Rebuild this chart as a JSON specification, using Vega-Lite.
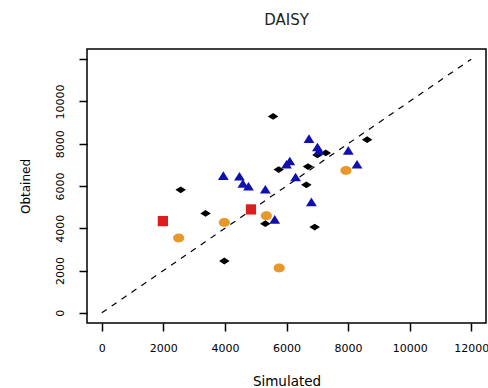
{
  "$schema": "https://vega.github.io/schema/vega-lite/v6.json",
  "width": 399,
  "height": 274,
  "autosize": "none",
  "padding": {"left": 87, "top": 49, "right": 2, "bottom": 65},
  "background": "white",
  "title": {"text": "DAISY", "font": "DejaVu Sans", "fontSize": 15, "fontWeight": "normal", "letterSpacing": 3.5, "offset": 21, "anchor": "middle", "color": "#222222"},
  "config": {
    "view": {"stroke": "black", "strokeWidth": 1.5},
    "axis": {
      "domain": false,
      "grid": false,
      "ticks": true,
      "tickSize": 8,
      "tickColor": "black",
      "tickWidth": 1.5,
      "labelColor": "black",
      "titleColor": "black",
      "labelFont": "DejaVu Sans",
      "titleFont": "DejaVu Sans",
      "titleFontWeight": "normal"
    }
  },
  "layer": [
    {
      "data": {"values": [{"x": 0, "y": 0}, {"x": 12000, "y": 12000}]},
      "mark": {"type": "line", "strokeDash": [6, 6], "color": "black", "strokeWidth": 1.2},
      "encoding": {
        "x": {"field": "x", "type": "quantitative", "scale": {"domain": [-480, 12480], "nice": false, "zero": false},
              "axis": {"values": [0, 2000, 4000, 6000, 8000, 10000, 12000], "format": "d", "labelFontSize": 11, "labelPadding": 11, "title": "Simulated", "titleFontSize": 13.5, "titlePadding": 21}},
        "y": {"field": "y", "type": "quantitative", "scale": {"domain": [-480, 12480], "nice": false, "zero": false},
              "axis": {"values": [0, 2000, 4000, 6000, 8000, 10000, 12000], "format": "d", "labelExpr": "datum.value == 12000 ? '' : datum.label", "labelAngle": -90, "labelAlign": "center", "labelBaseline": "bottom", "labelFontSize": 11, "labelPadding": 14, "title": "Obtained", "titleFontSize": 12, "titlePadding": 22}}
      }
    },
    {
      "data": {"values": [
        {"x": 5565, "y": 9292, "group": "A"},
        {"x": 8619, "y": 8193, "group": "A"},
        {"x": 7277, "y": 7566, "group": "A"},
        {"x": 7005, "y": 7472, "group": "A"},
        {"x": 6698, "y": 6920, "group": "A"},
        {"x": 5748, "y": 6778, "group": "A"},
        {"x": 6645, "y": 6057, "group": "A"},
        {"x": 2563, "y": 5821, "group": "A"},
        {"x": 3371, "y": 4703, "group": "A"},
        {"x": 5312, "y": 4217, "group": "A"},
        {"x": 6916, "y": 4057, "group": "A"},
        {"x": 3981, "y": 2453, "group": "A"},
        {"x": 6730, "y": 8226, "group": "B"},
        {"x": 7005, "y": 7830, "group": "B"},
        {"x": 7058, "y": 7675, "group": "B"},
        {"x": 8007, "y": 7675, "group": "B"},
        {"x": 8291, "y": 7014, "group": "B"},
        {"x": 6108, "y": 7170, "group": "B"},
        {"x": 6000, "y": 7014, "group": "B"},
        {"x": 6295, "y": 6415, "group": "B"},
        {"x": 3948, "y": 6481, "group": "B"},
        {"x": 4472, "y": 6448, "group": "B"},
        {"x": 4583, "y": 6104, "group": "B"},
        {"x": 4766, "y": 5976, "group": "B"},
        {"x": 5312, "y": 5835, "group": "B"},
        {"x": 6809, "y": 5236, "group": "B"},
        {"x": 5617, "y": 4406, "group": "B"},
        {"x": 7931, "y": 6731, "group": "C"},
        {"x": 5345, "y": 4594, "group": "C"},
        {"x": 3981, "y": 4278, "group": "C"},
        {"x": 2497, "y": 3538, "group": "C"},
        {"x": 5761, "y": 2123, "group": "C"},
        {"x": 1984, "y": 4340, "group": "D"},
        {"x": 4845, "y": 4892, "group": "D"}
      ]},
      "mark": {"type": "point", "filled": true, "opacity": 1, "strokeWidth": 0},
      "encoding": {
        "x": {"field": "x", "type": "quantitative"},
        "y": {"field": "y", "type": "quantitative"},
        "shape": {"field": "group", "type": "nominal", "legend": null,
                  "scale": {"domain": ["A", "B", "C", "D"], "range": ["M-1,0L0,-0.65L1,0L0,0.65Z", "M-1,0.75L1,0.75L0,-0.85Z", "M-1,0A1,0.8,0,1,0,1,0A1,0.8,0,1,0,-1,0Z", "M-0.9,-0.9L0.9,-0.9L0.9,0.9L-0.9,0.9Z"]}},
        "color": {"field": "group", "type": "nominal", "legend": null,
                  "scale": {"domain": ["A", "B", "C", "D"], "range": ["#000000", "#1010B0", "#E8982A", "#DD1E1E"]}},
        "size": {"field": "group", "type": "nominal", "legend": null,
                 "scale": {"domain": ["A", "B", "C", "D"], "range": [110, 130, 160, 120]}}
      }
    }
  ]
}
